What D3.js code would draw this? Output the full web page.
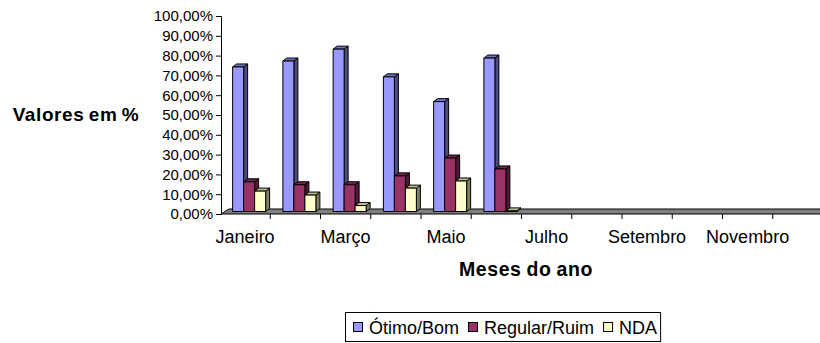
<!DOCTYPE html>
<html>
<head>
<meta charset="utf-8">
<script src="https://cdn.jsdelivr.net/npm/d3@7"></script>
<style>
  html, body { margin: 0; padding: 0; background: #fff; }
  svg { display: block; font-family: "Liberation Sans", Arial, sans-serif; }
</style>
</head>
<body>
<svg id="chart" width="820" height="343"></svg>
<script>
// Months of the year (every other one is labelled on the axis)
const months = ["Janeiro", "Fevereiro", "Março", "Abril", "Maio", "Junho",
                "Julho", "Agosto", "Setembro", "Outubro", "Novembro", "Dezembro"];
const shownMonths = ["Janeiro", "Março", "Maio", "Julho", "Setembro", "Novembro"];

// Series (percent); months without survey data stay empty
const seriesNames = ["Ótimo/Bom", "Regular/Ruim", "NDA"];
const otimoBom    = [73, 76, 82, 68, 55.5, 77.5];
const regularRuim = [15, 13.5, 13.5, 18, 27, 21.5];
const nda         = [10.3, 8.3, 3, 11.8, 15.4, 0.3];

const yTicks = d3.range(0, 101, 10);

const faceColors = [
  { front: "#9999ff", top: "#7373c0", side: "#4d4d80" },
  { front: "#993366", top: "#73264d", side: "#4d1a33" },
  { front: "#ffffcc", top: "#c0c099", side: "#808066" }
];

const svg = d3.select("#chart");

const plotLeft = 220, plotRight = 823, plotTop = 16, plotBottom = 214;
const floorDx = 8, floorDy = -5;          // depth of the floor
const barDx = 4, barDy = -3;              // depth of each column
const midDx = floorDx / 2, midDy = floorDy / 2;

const x = d3.scaleBand().domain(months).range([plotLeft, plotRight]).paddingInner(0).paddingOuter(0);
const groupWidth = 33;
const xs = d3.scaleBand().domain(seriesNames).range([0, groupWidth]).padding(0);
const y = d3.scaleLinear().domain([0, 100]).range([plotBottom, plotTop]);

// Floor
const fl = plotLeft + 1, fr = 830;
svg.append("path")
  .attr("d", `M${fl},${plotBottom}L${fr},${plotBottom}L${fr + floorDx},${plotBottom + floorDy}L${fl + floorDx},${plotBottom + floorDy}Z`)
  .attr("fill", "#808080").attr("stroke", "#000").attr("stroke-width", 1);

// Value axis
const yAxis = d3.axisLeft(y).tickValues(yTicks).tickSize(5)
  .tickFormat(d => d3.format(".2f")(d).replace(".", ",") + "%");
const gy = svg.append("g").attr("transform", `translate(${plotLeft + 1},0)`).call(yAxis);
gy.select(".domain").attr("stroke", "#000");
gy.selectAll(".tick line").attr("stroke", "#000");
gy.selectAll(".tick text").attr("font-size", 15).attr("fill", "#000")
  .attr("font-family", "'Liberation Sans', Arial, sans-serif").attr("x", -8);

// Category axis ticks
const gx = svg.append("g");
gx.selectAll("line").data(months.slice(1)).join("line")
  .attr("x1", d => x(d)).attr("x2", d => x(d))
  .attr("y1", plotBottom).attr("y2", plotBottom + 5)
  .attr("stroke", "#000");
gx.selectAll("text").data(shownMonths).join("text")
  .attr("x", d => x(d) + x.bandwidth() / 2).attr("y", 243)
  .attr("text-anchor", "middle").attr("font-size", 18).text(d => d);

// Columns
const allSeries = [otimoBom, regularRuim, nda];
const bars = [];
allSeries.forEach((vals, si) => {
  vals.forEach((v, mi) => bars.push({ s: si, m: mi, v }));
});
const barW = xs.bandwidth();
const groupOffset = (x.bandwidth() - groupWidth) / 2;

const g = svg.append("g").attr("stroke", "#000").attr("stroke-width", 1).attr("stroke-linejoin", "round");
bars.forEach(b => {
  const x0 = x(months[b.m]) + groupOffset + xs(seriesNames[b.s]) + midDx;
  const x1 = x0 + barW;
  const base = y(0) + midDy;
  const top = y(b.v) + midDy;
  const c = faceColors[b.s];
  const bg = g.append("g");
  bg.append("path")
    .attr("d", `M${x1},${top}L${x1 + barDx},${top + barDy}L${x1 + barDx},${base + barDy}L${x1},${base}Z`)
    .attr("fill", c.side);
  bg.append("path")
    .attr("d", `M${x0},${top}L${x1},${top}L${x1 + barDx},${top + barDy}L${x0 + barDx},${top + barDy}Z`)
    .attr("fill", c.top);
  bg.append("rect")
    .attr("x", x0).attr("y", top).attr("width", barW).attr("height", base - top)
    .attr("fill", c.front);
});

// Axis titles
svg.append("text").attr("x", 76).attr("y", 121).attr("text-anchor", "middle")
  .attr("font-size", 19).attr("font-weight", "bold").attr("letter-spacing", 0.6)
  .attr("word-spacing", -1.5).text("Valores em %");
svg.append("text").attr("x", 526).attr("y", 276).attr("text-anchor", "middle")
  .attr("font-size", 19.5).attr("font-weight", "bold").attr("letter-spacing", 0.6)
  .attr("word-spacing", -1).text("Meses do ano");

// Legend
const legend = svg.append("g");
const box = legend.append("rect").attr("x", 345.5).attr("y", 312.5).attr("height", 29)
  .attr("fill", "#fff").attr("stroke", "#000");
let lx = 353;
seriesNames.forEach((name, i) => {
  legend.append("rect").attr("x", lx + 0.5).attr("y", 322.5).attr("width", 9).attr("height", 9)
    .attr("fill", faceColors[i].front).attr("stroke", "#000");
  const t = legend.append("text").attr("x", lx + 16).attr("y", 334).attr("font-size", 18).text(name);
  lx += 16 + t.node().getComputedTextLength() + 9;
});
box.attr("width", lx - 345 - 6);
</script>
</body>
</html>
